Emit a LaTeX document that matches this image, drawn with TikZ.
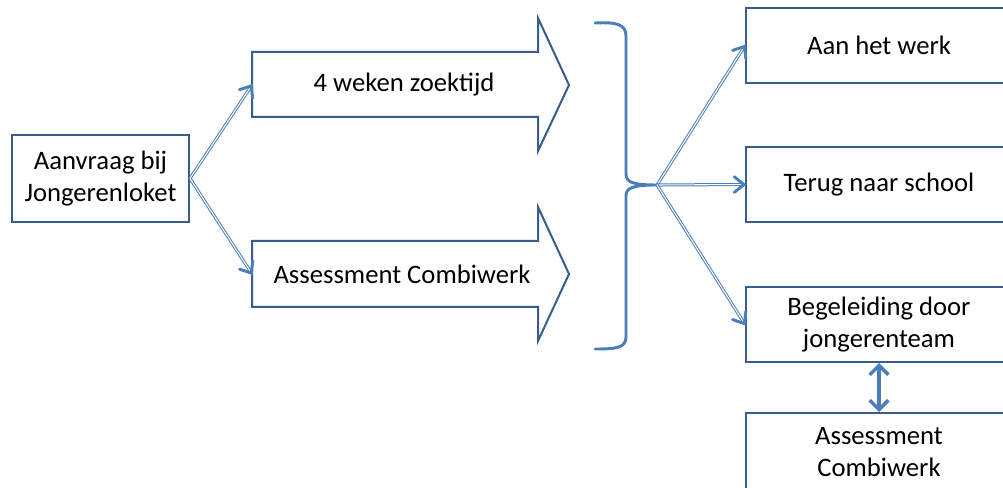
\documentclass[tikz,border=0pt]{standalone}
\usepackage{fontspec}
\setmainfont{Carlito}
\usetikzlibrary{arrows.meta,calc}
\definecolor{boxblue}{HTML}{385D8A}
\definecolor{lineblue}{HTML}{4A7EBB}
\begin{document}
\begin{tikzpicture}[x=0.75pt,y=-0.75pt,
  box/.style={draw=boxblue, line width=1.5pt, fill=white, align=center, inner sep=0pt, font=\fontsize{20}{24}\selectfont},
  blockarrow/.style={draw=boxblue, line width=1.5pt, fill=white, line join=miter},
  lbl/.style={font=\fontsize{20}{24}\selectfont, align=center, inner sep=0pt},
  dbl/.style={draw=lineblue, line width=0.75pt, double=white, double distance=0.8pt, shorten >=1pt},
  barb/.style={draw=lineblue, line width=2.2pt, line cap=round, line join=miter},
  bidir/.style={draw=lineblue, line width=2.6pt, {Straight Barb[length=7pt,width=14pt]}-{Straight Barb[length=7pt,width=14pt]}},
  brace/.style={draw=lineblue, line width=2.2pt, line cap=round}]
\useasboundingbox (0,0) rectangle (1003,488);
\clip (0,0) rectangle (1003,488);

% left box
\node[box, minimum width=132.75pt, minimum height=65.25pt] (aanvraag) at (100.5,178.5) {Aanvraag bij\\Jongerenloket};

% block arrows
\draw[blockarrow] (252,52) -- (538,52) -- (538,18) -- (569,85) -- (538,151) -- (538,117) -- (252,117) -- cycle;
\node[lbl] (zoek) at (404,85) {4 weken zoektijd};
\coordinate (zoekin) at (252,85);

\draw[blockarrow] (252,241) -- (538,241) -- (538,207) -- (569,274) -- (538,341) -- (538,307) -- (252,307) -- cycle;
\node[lbl] (assess1) at (402,274) {Assessment Combiwerk};
\coordinate (assessin) at (252,274);

% brace
\coordinate (bracetip) at (657,185);
\draw[brace] (595,23) .. controls (616,22) and (626,24) .. (626,36) -- (626,174)
  .. controls (626,182) and (632,185) .. (bracetip)
  .. controls (632,185) and (626,188) .. (626,196) -- (626,337)
  .. controls (626,348) and (616,349) .. (595,349);

% right boxes
\node[box, minimum width=199.5pt, minimum height=56.25pt] (werk) at (879,45.5) {Aan het werk};
\node[box, minimum width=199.5pt, minimum height=56.25pt] (terug) at (879,184.5) {Terug naar school};
\node[box, minimum width=199.5pt, minimum height=56.25pt] (begel) at (879,324.5) {Begeleiding door\\jongerenteam};
\node[box, minimum width=199.5pt, minimum height=58.5pt] (assess2) at (879,452) {Assessment\\Combiwerk};

% connectors (double shaft + open arrow head)
\foreach \a/\b in {aanvraag.east/zoekin, aanvraag.east/assessin, bracetip/werk.west, bracetip/terug.west, bracetip/begel.west}{
  \draw[dbl] (\a) -- (\b);
  \draw[barb] ($(\b)!10pt!36:(\a)$) -- ($(\b)!0.8pt!(\a)$) -- ($(\b)!10pt!-36:(\a)$);
}
\draw[bidir] (begel.south) -- (assess2.north);
\end{tikzpicture}
\end{document}
